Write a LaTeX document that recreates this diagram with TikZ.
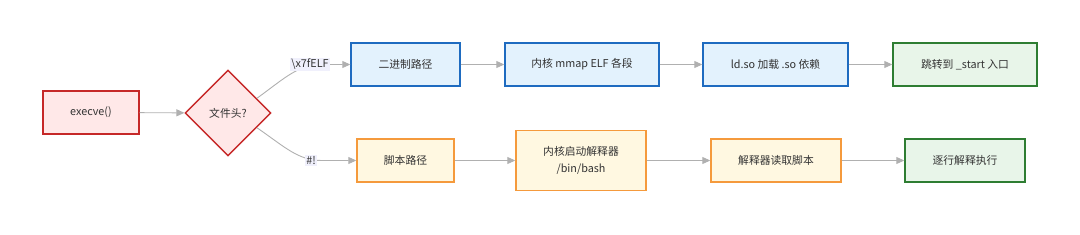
\documentclass[tikz,border=0pt]{standalone}
\usepackage{fontspec}
\setmainfont{Noto Sans CJK SC}
\usetikzlibrary{shapes.geometric,arrows.meta}
\definecolor{redfill}{HTML}{FFE8E8}
\definecolor{redline}{HTML}{C62828}
\definecolor{bluefill}{HTML}{E3F2FD}
\definecolor{blueline}{HTML}{1E6BC0}
\definecolor{greenfill}{HTML}{E8F5E9}
\definecolor{greenline}{HTML}{2E7D32}
\definecolor{orangefill}{HTML}{FFF8E1}
\definecolor{orangeline}{HTML}{F59A3C}
\definecolor{edgecol}{HTML}{B0B0B0}
\definecolor{labfill}{HTML}{F0F0FC}
\definecolor{txt}{HTML}{333333}
\tikzset{
  box/.style={draw, line width=1.4pt, minimum height=43pt, inner sep=0pt, text=txt, font=\fontsize{10.8}{17}\selectfont, align=center},
  redbox/.style={box, fill=redfill, draw=redline},
  bluebox/.style={box, fill=bluefill, draw=blueline},
  greenbox/.style={box, fill=greenfill, draw=greenline},
  orangebox/.style={box, fill=orangefill, draw=orangeline},
  arr/.style={draw=edgecol, line width=0.9pt, -{Triangle[length=8pt,width=7pt]}, color=edgecol},
  elabel/.style={fill=labfill, inner sep=1.5pt, text=txt, font=\fontsize{10.8}{13}\selectfont}
}
\begin{document}
\begin{tikzpicture}[x=1pt,y=-1pt]
\useasboundingbox (0,0) rectangle (1080,234);
\node[redbox, minimum width=96pt] (ex) at (91,112.5) {execve()};
\node[diamond, draw=redline, fill=redfill, line width=1.4pt, minimum width=86pt, minimum height=86pt, inner sep=0pt, aspect=1, text=txt, font=\fontsize{10.8}{13}\selectfont] (dia) at (228,113) {文件头?};
\node[bluebox, minimum width=109pt] (b1) at (405.5,64.5) {二进制路径};
\node[bluebox, minimum width=154pt] (b2) at (582,64.5) {内核 mmap ELF 各段};
\node[bluebox, minimum width=145pt] (b3) at (775.5,64.5) {ld.so 加载 .so 依赖};
\node[greenbox, minimum width=144pt] (b4) at (965,64.5) {跳转到 \_start 入口};
\node[orangebox, minimum width=97pt] (s1) at (405.5,160.5) {脚本路径};
\node[orangebox, minimum width=130pt, minimum height=60pt] (s2) at (581,160.5) {内核启动解释器\\/bin/bash};
\node[orangebox, minimum width=130pt] (s3) at (776,160.5) {解释器读取脚本};
\node[greenbox, minimum width=120pt] (s4) at (965,160.5) {逐行解释执行};
\coordinate (c1) at (b1.west -| 322,0);
\coordinate (c2) at (s1.west -| 322,0);
\draw[arr] (ex) -- (dia);
\draw[arr] (dia.27) .. controls (285,78) and (298,64.5) .. (c1) -- (b1.west);
\draw[arr] (dia.-27) .. controls (285,147) and (298,160.5) .. (c2) -- (s1.west);
\node[elabel] (l1) at (310,64.5) {\textbackslash x7fELF};
\node[elabel] (l2) at (311,160.5) {\#!};
\draw[arr] (b1) -- (b2);
\draw[arr] (b2) -- (b3);
\draw[arr] (b3) -- (b4);
\draw[arr] (s1) -- (s2);
\draw[arr] (s2) -- (s3);
\draw[arr] (s3) -- (s4);
\end{tikzpicture}
\end{document}
